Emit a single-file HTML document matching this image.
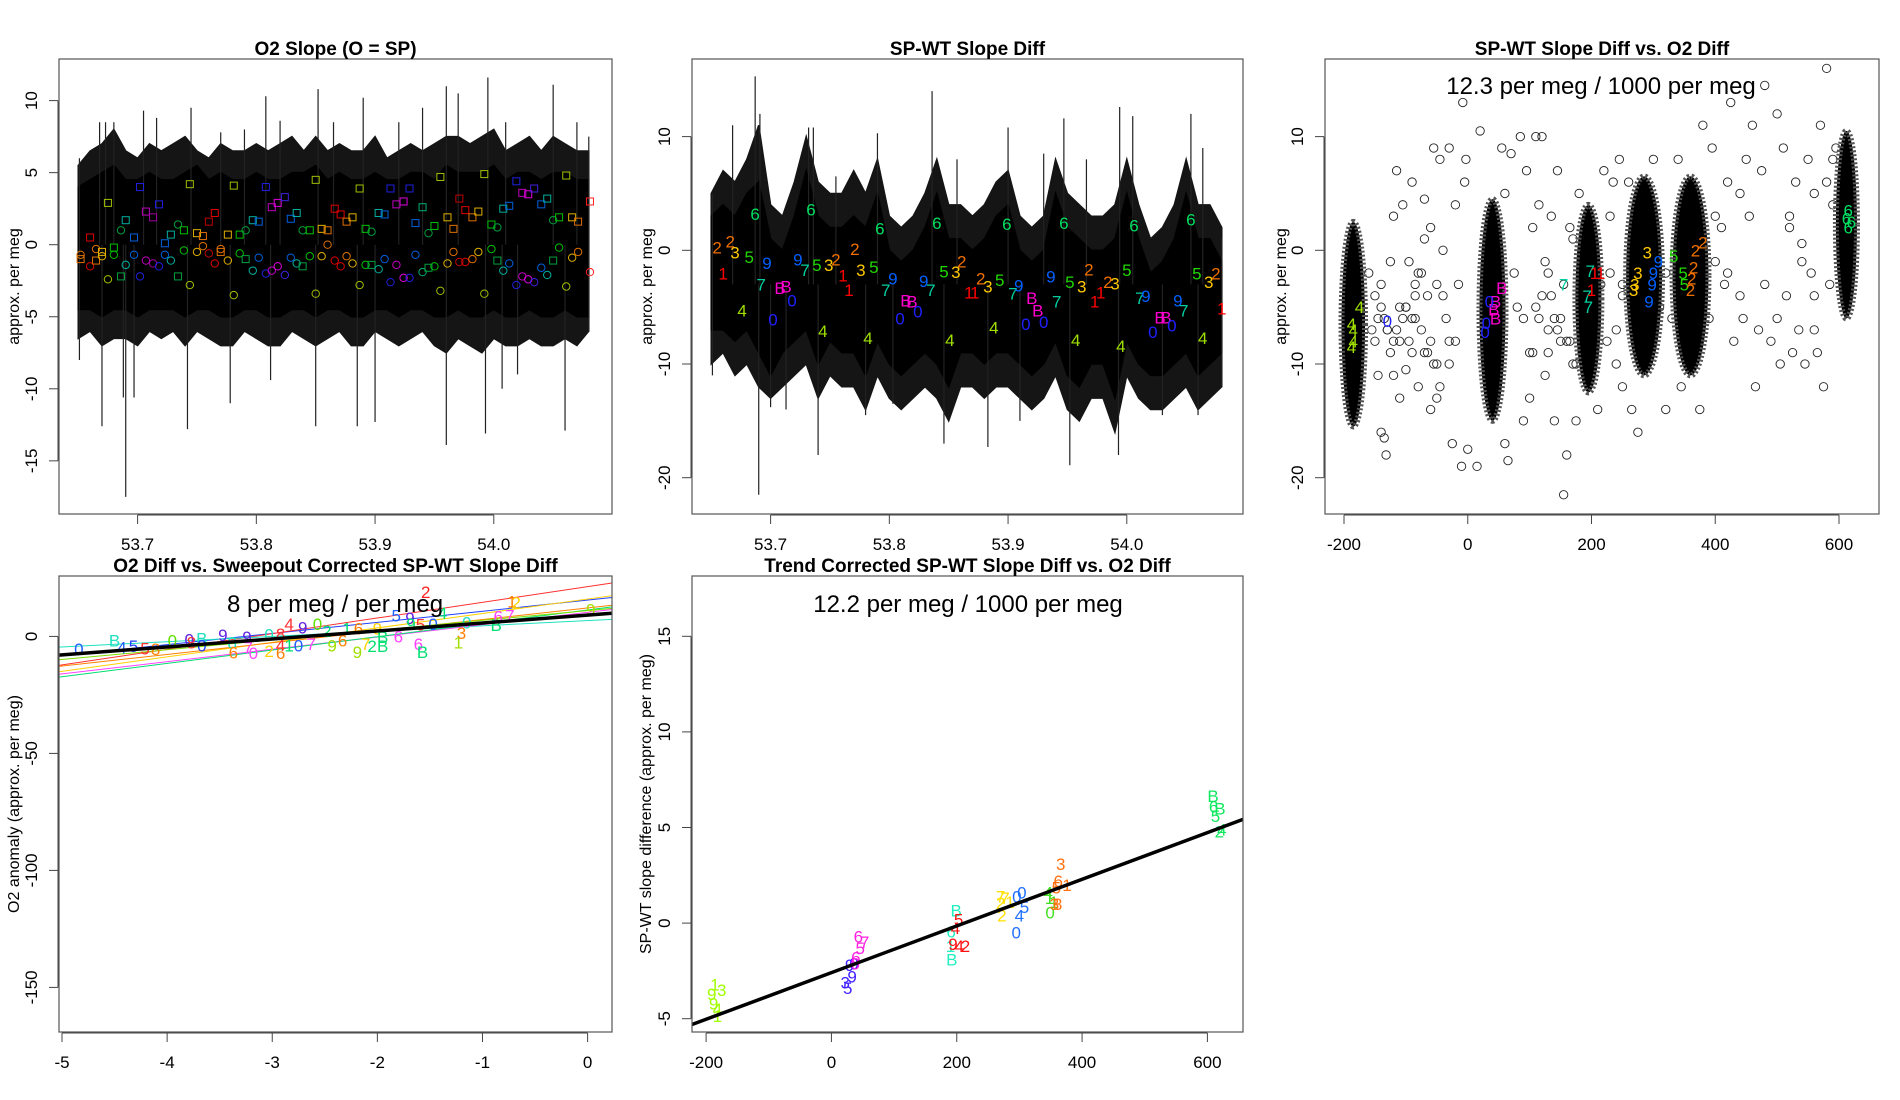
<!DOCTYPE html>
<html><head><meta charset="utf-8"><style>
html,body{margin:0;padding:0;background:#fff}
svg{display:block}
text{font-family:"Liberation Sans",Arial,sans-serif}
</style></head><body>
<svg id="chart" width="1900" height="1100" viewBox="0 0 1900 1100" xmlns="http://www.w3.org/2000/svg">
<rect width="1900" height="1100" fill="#fff"/>
</svg>
<script>
// ---------- Panel 1 data: O2 Slope ----------
const p1BandX = [53.65,53.66,53.67,53.68,53.69,53.70,53.71,53.72,53.73,53.74,53.75,53.76,53.77,53.78,53.79,53.80,53.81,53.82,53.83,53.84,53.85,53.86,53.87,53.88,53.89,53.90,53.91,53.92,53.93,53.94,53.95,53.96,53.97,53.98,53.99,54.00,54.01,54.02,54.03,54.04,54.05,54.06,54.07,54.08];
const p1BandHi = [4,4.5,5,5.5,4.5,4.5,5,4.5,4.5,5,5.5,4.5,5,4.5,4.5,5,4.5,4.5,5,5,5.5,4.5,5,4.5,4.5,5,4.5,4.5,5,5,4.5,5.5,5,5,5,5.5,4.5,5,5,4.5,5,5,4.5,4.5];
const p1BandLo = [-4.5,-4.5,-5,-4.5,-4.5,-5,-4.5,-4.5,-4.5,-5,-4.5,-4.5,-5,-5,-4.5,-4.5,-5,-5,-4.5,-4.5,-5,-4.5,-4.5,-5,-5,-4.5,-4.5,-5,-4.5,-4.5,-5,-5,-4.5,-5,-5,-4.5,-5,-5,-4.5,-5,-5,-4.5,-5,-5];
const p1FringeHi = [5.5,6.5,7,8,6.5,6,7,6.5,7,7.5,6.5,6,7,6.5,6.5,7,6.5,7,7.5,6.5,7.5,6.5,7,6.5,6.5,7.5,6,6.5,7,6.5,7,7.5,7.5,7,7.5,8,6.5,7,7.5,6.5,7.5,7,6.5,6.5];
const p1FringeLo = [-6.5,-6,-7,-6.5,-6.5,-7,-6,-6.5,-6,-7,-6,-6.5,-7,-7,-6,-6.5,-7,-7,-6,-6.5,-7,-6.5,-6,-7,-7,-6,-6.5,-7,-6.5,-6,-7,-7.5,-6.5,-7,-7.5,-6.5,-7,-7,-6.5,-7,-7,-6.5,-7,-6];
const p1SpikeUpX = [53.651,53.668,53.673,53.68,53.705,53.716,53.745,53.77,53.79,53.808,53.82,53.852,53.865,53.89,53.92,53.94,53.96,53.97,53.995,54.01,54.05,54.07,54.08];
const p1SpikeUpY = [6,8.5,8.5,8.5,9.3,8.8,9.5,7.8,8,10.3,8.6,10.8,8.5,10.2,8.5,9.5,11,10.5,11.6,8.5,11.1,8.5,7.5];
const p1SpikeDnX = [53.651,53.67,53.688,53.69,53.697,53.742,53.778,53.812,53.85,53.885,53.9,53.96,53.993,54.007,54.02,54.06,54.08];
const p1SpikeDnY = [-8,-12.6,-10.6,-17.5,-10.6,-12.8,-11,-9.4,-12.6,-12.6,-12.3,-13.9,-13.1,-10,-9,-12.9,-6];
const p1MarkX = [53.652,53.66,53.665,53.67,53.675,53.68,53.686,53.69,53.697,53.702,53.707,53.713,53.718,53.723,53.728,53.734,53.739,53.744,53.75,53.755,53.76,53.765,53.77,53.776,53.781,53.786,53.791,53.797,53.802,53.808,53.813,53.818,53.824,53.829,53.834,53.839,53.845,53.85,53.855,53.86,53.866,53.871,53.876,53.881,53.887,53.892,53.897,53.903,53.908,53.913,53.918,53.924,53.929,53.934,53.94,53.945,53.95,53.955,53.961,53.966,53.971,53.976,53.982,53.987,53.992,53.998,54.003,54.008,54.013,54.019,54.024,54.029,54.034,54.04,54.045,54.05,54.055,54.061,54.066,54.071,54.081];
const p1MarkColor = ["#e07000","#e00000","#e07000","#e0b000","#a0c000","#00c000","#00a040","#00b0a0","#0060e0","#2020e0","#c000c0","#a000a0","#2020e0","#0060e0","#00b0a0","#00a040","#00c000","#a0c000","#e0b000","#e07000","#c00000","#e00000","#e07000","#e0b000","#a0c000","#00c000","#00a040","#00b0a0","#0060e0","#2020e0","#c000c0","#e000e0","#4020e0","#0060e0","#00b0a0","#00a040","#00c000","#a0c000","#e0b000","#e07000","#e00000","#e00000","#e07000","#e0b000","#a0c000","#00c000","#00a040","#00b0a0","#0060e0","#2020e0","#c000c0","#e000e0","#2020e0","#0060e0","#00b070","#00a040","#00c000","#a0c000","#e0b000","#e07000","#c00000","#e00000","#e07000","#e0b000","#a0c000","#00c000","#00a040","#00b0a0","#0060e0","#2020e0","#c000c0","#e000e0","#4020e0","#0060e0","#00b0a0","#00a040","#00c000","#a0c000","#e0b000","#e07000","#ff2020"];
const p1SquareY = [-1.0,0.5,-1.1,-0.5,2.9,-0.2,-2.2,1.7,0.5,4.0,2.3,1.9,2.8,0.1,0.7,-2.2,1.0,4.2,0.8,0.6,1.6,2.2,-0.5,0.7,4.1,0.7,-1.0,1.7,1.6,4.0,2.6,2.9,3.3,1.8,2.2,-1.5,1.0,4.5,1.1,1.0,2.5,2.1,1.6,1.9,3.9,1.1,-1.4,2.2,2.1,3.9,2.8,3.0,3.9,1.5,2.6,-1.6,1.3,4.7,1.9,1.1,3.2,2.4,1.9,2.3,4.9,1.4,-1.1,2.5,2.7,4.4,3.6,3.5,3.9,2.8,3.2,-1.1,1.9,4.8,1.9,1.6,3.0];
const p1CircleY = [-0.7,-1.5,-0.3,-0.8,-2.4,-0.7,1.0,-1.4,-0.7,-2.2,-1.1,-1.3,-1.5,-0.7,-1.1,1.4,-0.4,-2.8,-0.5,-0.1,-0.6,-1.3,-0.3,-1.1,-3.5,-0.6,1.0,-1.8,-0.9,-2.0,-1.8,-1.5,-2.1,-0.9,-1.3,1.0,-0.8,-3.4,-0.8,0,-1.1,-1.5,-0.8,-1.3,-2.8,-1.4,0.9,-1.7,-1.0,-2.6,-1.4,-2.3,-2.3,-0.7,-1.9,0.8,-1.5,-3.2,-1.3,-0.5,-1.2,-1.2,-1.0,-0.5,-3.4,-0.3,1.2,-1.8,-1.3,-2.8,-2.2,-2.4,-2.6,-1.6,-2.1,1.7,-0.2,-2.9,-0.9,-0.5,-1.9];
const p1XTicks = [53.7,53.8,53.9,54.0];
const p1XTickLabels = ["53.7","53.8","53.9","54.0"];
const p1YTicks = [-15,-10,-5,0,5,10];

// ---------- Panel 2 data: SP-WT Slope Diff ----------
const p2BandX = p1BandX;
const p2BandHi = [3,4,3,5,6,1,0,3,7,3,2,2,3,2,5,0,-1,0,2,5,1,1,0,1,3,4,0,-1,0,5,2,1,0,0,1,5,1,-2,-1,1,5,1,1,-1];
const p2BandLo = [-7,-7,-8,-7,-9,-11,-9,-8,-7,-10,-8,-9,-9,-11,-8,-10,-11,-10,-9,-10,-12,-9,-9,-10,-9,-9,-10,-11,-10,-8,-11,-12,-10,-10,-13,-8,-10,-11,-11,-10,-9,-11,-10,-9];
const p2FringeHi = [5,7,6,8,11,4,3,6,10,6,5,5,7,5,8,3,2,3,5,8,4,4,3,4,6,7,3,2,3,8,5,4,3,3,4,8,4,1,2,4,8,4,4,2];
const p2FringeLo = [-10,-9,-11,-10,-12,-13,-12,-11,-10,-13,-11,-12,-12,-14,-11,-13,-14,-13,-12,-13,-15,-12,-12,-13,-12,-12,-13,-14,-13,-11,-14,-15,-13,-13,-16,-11,-13,-14,-14,-13,-12,-14,-13,-12];
const p2SpikeUpX = [53.651,53.668,53.687,53.691,53.732,53.736,53.755,53.79,53.836,53.857,53.9,53.93,53.947,53.966,53.994,54.005,54.054,54.064,54.08];
const p2SpikeUpY = [5,11,15.3,12,10.8,10.8,6.5,10.3,14,8,10.8,8.5,11.6,8,12.6,11.8,12,9,1];
const p2SpikeDnX = [53.651,53.69,53.70,53.713,53.74,53.78,53.803,53.846,53.883,53.91,53.952,53.993,54.03,54.06,54.08];
const p2SpikeDnY = [-11,-21.5,-13.8,-14,-18,-14.5,-13.5,-17,-17.3,-15,-18.9,-18,-14.5,-14.5,-12];
const p2LabX = [53.655,53.666,53.670,53.660,53.682,53.676,53.687,53.697,53.692,53.708,53.713,53.718,53.702,53.723,53.729,53.739,53.734,53.749,53.755,53.744,53.761,53.766,53.771,53.776,53.787,53.792,53.782,53.797,53.803,53.814,53.819,53.809,53.824,53.829,53.835,53.840,53.846,53.856,53.861,53.851,53.867,53.872,53.877,53.883,53.893,53.888,53.899,53.904,53.909,53.920,53.925,53.915,53.930,53.936,53.941,53.947,53.952,53.962,53.968,53.957,53.973,53.978,53.984,53.990,53.995,54.000,54.006,54.011,54.016,54.022,54.028,54.033,54.038,54.043,54.048,54.054,54.059,54.064,54.069,54.075,54.080];
const p2LabY = [0.25,0.77,-0.2,-2.06,-0.6,-5.3,3.2,-1.1,-3.0,-3.3,-3.2,-4.4,-6.1,-0.8,-1.75,-1.3,3.6,-1.3,-0.8,-7.1,-2.2,-3.5,0.1,-1.75,-1.45,1.9,-7.7,-3.5,-2.5,-4.4,-4.5,-6.0,-5.4,-2.7,-3.5,2.4,-1.85,-1.9,-1.0,-7.9,-3.7,-3.7,-2.5,-3.2,-2.6,-6.8,2.3,-3.8,-3.1,-4.2,-5.3,-6.5,-6.3,-2.3,-4.5,2.4,-2.8,-3.2,-1.7,-7.9,-4.5,-3.7,-2.8,-2.9,-8.4,-1.75,2.2,-4.2,-4.0,-7.2,-5.9,-5.9,-6.6,-4.4,-5.3,2.7,-2.06,-7.7,-2.8,-2.06,-5.1];
const p2LabText = ["2","2","3","1","5","4","6","9","7","B","B","0","0","9","7","5","6","3","2","4","1","1","2","3","5","6","4","7","9","B","B","0","0","9","7","6","5","3","2","4","1","1","2","3","5","4","6","7","9","B","B","0","0","9","7","6","5","3","2","4","1","1","2","3","4","5","6","7","9","0","B","B","0","9","7","6","5","4","3","2","1"];
const p2YTicks = [-20,-10,0,10];

// ---------- Panel 3 data: SP-WT Slope Diff vs O2 Diff ----------
const p3ClusterX = [-185,40,195,285,360,612];
const p3ClusterHalfW = [19,21,21,29,29,17];
const p3ClusterTop = [2.5,4.5,4,6.5,6.5,10.5];
const p3ClusterBottom = [-15.5,-15,-12.5,-11,-11,-6];
const p3PtX = [-140,-130,-120,-110,-100,-95,-90,-85,-80,-75,-70,-60,-55,-50,-45,-40,-35,-30,-25,-20,-15,-10,-5,-3,-8,-115,-125,-140,-135,-132,-150,-105,-100,-90,-60,-70,-45,-30,0,15,20,55,60,65,70,75,80,85,90,95,100,105,110,115,120,125,130,135,140,145,150,155,160,165,170,175,180,185,210,215,220,225,230,235,240,245,250,260,265,275,300,310,320,340,345,375,380,390,400,410,420,425,430,440,450,460,465,470,475,480,490,500,505,510,515,520,530,535,540,545,550,555,560,565,570,575,580,585,590,595,560,525,455,445,415,395,250,170,130,60,-60,-20,-85,-120,-145,-110,-65,-40,-155,-100,-80,-50,-130,100,120,140,160,110,150,-150,-140,-125,-115,-105,-95,-85,-75,-65,-55,-160,-145,-135,-120,-110,-90,-70,-50,-30,90,105,125,135,145,155,165,175,130,115,230,240,250,320,330,400,420,440,480,500,520,540,560,580,590,600];
const p3PtY = [-3,-7,-11,-13,-5,-1,-9,-4,-12,-2,1,-8,9,-13,8,0,-6,9,-17,4,-3,-19,6,8,13,7,-1,-16,-16.5,-18,-4,4,-10.5,6,-14,4.5,-12,-10,-17.5,-19,10.5,9,-17,-18.5,8.5,-2,-5,10,-15,7,-13,2,10,-6,10,-11,-2,3,-15,7,-8,-21.5,-18,2,-10,-15,5,-9,-14,-3,7,-8,3,6,-10,8,-12,6,-14,-16,8,-5,-14,8,-12,-14,11,-6,-1,2,6,13,-8,-4,8,11,-12,-7,7,14.5,-8,12,-10,9,-4,3,6,-7,0.6,-10,8,-2,5,-9,11,-12,16,-3,4,9,-4,-9,3,-6,-3,9,-3,1,-7,5,2,-8,-6,3,-6,-8,-9,-4,-7,-5,-2,-10,-7,-9,-4,-6,-8,-5,-6,-8,-5,-9,-7,-6,-8,-3,-7,-4,-10,-2,-11,-6,-8,-5,-6,-9,-3,-8,-6,-9,-1,-4,-7,-3,-8,-10,-9,4,-2,-7,-4,-2,-6,3,-2,5,-3,-6,2,-1,-7,6,8];
const p3LabX = [-175,-188,-185,-185,-188,-130,55,45,42,45,35,30,28,155,198,193,195,205,215,200,290,275,270,268,308,300,298,293,333,348,350,380,368,365,362,360,615,612,615,620];
const p3LabY = [-5,-6.5,-7,-8,-8.5,-6.2,-3.3,-4.5,-5.2,-6,-4.5,-6.4,-7.2,-3,-1.8,-4,-5,-2,-2,-3.5,-0.2,-2,-3,-3.5,-1,-2,-3,-4.5,-0.5,-2,-3,0.7,0,-1.5,-2.5,-3.5,3.5,2.8,2,2.5];
const p3LabText = ["4","4","4","4","4","0","B","B","B","B","0","0","0","7","7","7","7","1","1","1","3","3","3","3","9","9","9","9","5","5","5","2","2","2","2","2","6","6","6","6"];
const p3XTicks = [-200,0,200,400,600];
const p3YTicks = [-20,-10,0,10];

// ---------- Panel 4 data ----------
const p4LineLeftY = [-8.4,-12.4,-4.6,-15.1,-16.2,-17.4,-12.8,-10];
const p4LineRightY = [16.6,22.8,7.3,17.4,11.5,12.6,13.3,12];
const p4LineColor = ["#2040ff","#ff3030","#20e0c0","#ffd000","#ff40ff","#00e070","#ff8000","#80e000"];
const p4FitLeftY = -8.0;
const p4FitRightY = 9.9;
const p4LabX = [-4.84,-4.50,-4.43,-4.32,-4.21,-4.11,-3.95,-3.79,-3.77,-3.67,-3.67,-3.47,-3.38,-3.37,-3.24,-3.23,-3.18,-3.03,-3.03,-2.92,-2.92,-2.92,-2.84,-2.75,-2.63,-2.84,-2.71,-2.57,-2.48,-2.43,-2.33,-2.29,-2.18,-2.00,-2.19,-2.11,-2.05,-1.95,-1.95,-1.80,-1.82,-1.69,-1.54,-1.68,-1.59,-1.61,-1.57,-1.47,-1.38,-1.15,-1.20,-1.23,-0.87,-0.85,-0.74,-0.72,-0.68,0.03];
const p4LabY = [-5.4,-1.65,-4.65,-4.2,-5.1,-5.4,-1.65,-1.35,-2.7,-0.9,-3.9,0.6,-2.7,-6.9,-0.15,-4.65,-7.2,-6.15,0.9,1.05,-7.2,-3.6,-3.9,-3.9,-3.15,5.4,3.9,5.4,2.4,-3.9,-1.65,3.3,3.3,3.3,-6.6,-3.15,-4.2,-4.2,-0.15,0,8.85,7.8,18.9,5.4,5.1,-3.15,-6.6,5.4,9.9,5.85,1.5,-2.7,4.8,8.55,8.85,14.85,14.4,11.4];
const p4LabText = ["0","B","4","5","5","8","0","0","8","B","0","9","8","6","9","7","0","2","0","8","6","4","1","0","7","4","9","0","2","9","6","1","6","9","9","7","2","B","B","6","5","9","2","9","5","6","B","0","4","0","3","1","B","6","7","1","2","9"];
const p4LabColor = ["#2060ff","#20e0c0","#2060ff","#2040ff","#ff3030","#ff8000","#60e000","#6020e0","#ff3030","#20e0c0","#2040ff","#6020e0","#20e0c0","#ff8000","#6020e0","#ff40ff","#ff40ff","#ffd000","#20e0c0","#ff3030","#ff8000","#ff3030","#00e070","#2060ff","#ff40ff","#ff3030","#6020e0","#60e000","#00e070","#a0e000","#ff8000","#00e070","#ff8000","#ffd000","#a0e000","#ffd000","#00e070","#00e070","#00e070","#ff40ff","#2060ff","#6020e0","#ff2020","#00e070","#ff3030","#ff40ff","#00e070","#2060ff","#00e070","#20e0c0","#ff8000","#a0e000","#00e070","#ff40ff","#ff40ff","#ff8000","#ffd000","#a0e000"];
const p4XTicks = [-5,-4,-3,-2,-1,0];
const p4YTicks = [-150,-100,-50,0];

// ---------- Panel 5 data ----------
const p5Slope = 0.0122;
const p5Intercept = -2.59;
const p5LabX = [-186,-175,-191,-188,-182,-182,26,33,29,22,36,43,53,46,39,38,199,191,192,190,203,198,194,204,214,270,277,270,272,285,304,296,308,300,295,346,348,349,355,366,362,359,376,361,356,609,610,620,613,619,623];
const p5LabY = [-3.2,-3.5,-3.7,-4.2,-4.5,-4.85,-3.4,-2.8,-2.2,-3.1,-2.1,-0.7,-1.0,-1.3,-1.8,-2.1,0.65,-0.45,-1.9,-1.2,0.2,-0.25,-1.1,-1.2,-1.2,1.4,1.3,1.05,0.4,1.1,1.6,1.4,0.85,0.4,-0.5,1.6,1.3,0.55,1.1,3.1,2.2,1.85,2.0,1.0,1.0,6.65,6.1,6.0,5.6,4.8,4.9];
const p5LabText = ["1","3","9","9","4","1","5","9","9","3","0","6","7","5","6","0","B","6","B","1","5","4","9","4","2","7","7","2","2","1","0","0","5","4","0","4","1","0","1","3","6","5","1","8","3","B","6","B","5","2","4"];
const p5LabColor = ["#a0ff00","#a0ff00","#a0ff00","#a0ff00","#a0ff00","#a0ff00","#4020ff","#4020ff","#4020ff","#4020ff","#4020ff","#ff20e0","#ff20e0","#ff20e0","#ff20e0","#ff20e0","#20f0c0","#20f0c0","#20f0c0","#20f0c0","#ff1010","#ff1010","#ff1010","#ff1010","#ff1010","#ffe000","#ffe000","#ffe000","#ffe000","#ffe000","#2070ff","#2070ff","#2070ff","#2070ff","#2070ff","#40e020","#40e020","#40e020","#40e020","#ff7010","#ff7010","#ff7010","#ff7010","#ff7010","#ff7010","#10e860","#10e860","#10e860","#10e860","#10e860","#10e860"];
const p5XTicks = [-200,0,200,400,600];
const p5YTicks = [-5,0,5,10,15];

const digitColor = {"1":"#ff0000","2":"#f07000","3":"#ffc800","4":"#a0e000","5":"#20d800","6":"#00e060","7":"#00d0a0","9":"#0060ff","0":"#2020ff","B":"#ff00d0"};

const svg = document.getElementById('chart');
const NS = 'http://www.w3.org/2000/svg';
function mk(tag, attrs, parent){
  const e = document.createElementNS(NS, tag);
  for (const k in attrs) e.setAttribute(k, attrs[k]);
  (parent || svg).appendChild(e);
  return e;
}
function lin(d0,d1,r0,r1){ return v => r0 + (v-d0)*(r1-r0)/(d1-d0); }

function frame(g, box, title, titleY){
  const r = mk('rect', {x:box.x0, y:box.y0, width:box.x1-box.x0, height:box.y1-box.y0, fill:'none', stroke:'#555', 'stroke-width':1.2}, g);
  
  
  const t = mk('text', {x:(box.x0+box.x1)/2, y:titleY, 'text-anchor':'middle', 'font-size':19, 'font-weight':'bold', fill:'#000'}, g);
  t.textContent = title;
  
  
}
function xAxis(g, box, sx, ticks, labels){
  const a = mk('g', {}, g);
  
  
  const y = box.y1 + 1;
  mk('line', {x1:sx(ticks[0]), x2:sx(ticks[ticks.length-1]), y1:y, y2:y, stroke:'#444', 'stroke-width':1}, a);
  ticks.forEach((t,i)=>{
    const tl = mk('line', {x1:sx(t), x2:sx(t), y1:y, y2:y+9, stroke:'#444', 'stroke-width':1}, a);
    
    
    const tx = mk('text', {x:sx(t), y:y+35, 'text-anchor':'middle', 'font-size':17, fill:'#000'}, a);
    tx.textContent = labels ? labels[i] : String(t);
    
    
  });
}
function yAxis(g, box, sy, ticks, title, titleX, labelX){
  const a = mk('g', {}, g);
  
  
  const x = box.x0 - 1;
  mk('line', {x1:x, x2:x, y1:sy(ticks[0]), y2:sy(ticks[ticks.length-1]), stroke:'#444', 'stroke-width':1}, a);
  ticks.forEach(t=>{
    const tl = mk('line', {x1:x-9, x2:x, y1:sy(t), y2:sy(t), stroke:'#444', 'stroke-width':1}, a);
    
    
    const tx = mk('text', {x:0, y:6, 'text-anchor':'middle', 'font-size':17, fill:'#000', transform:`translate(${box.x0-labelX},${sy(t)}) rotate(-90)`}, a);
    tx.textContent = String(t);
    
    
  });
  const tt = mk('text', {x:0, y:6, 'text-anchor':'middle', 'font-size':16, fill:'#000', transform:`translate(${titleX},${(box.y0+box.y1)/2}) rotate(-90)`}, a);
  tt.textContent = title;
  
  
}
function band(g, sx, sy, X, Hi, Lo, color){
  let d = 'M' + X.map((x,i)=>sx(x)+','+sy(Hi[i])).join('L');
  for (let i=X.length-1;i>=0;i--) d += 'L'+sx(X[i])+','+sy(Lo[i]);
  const p = mk('path', {d:d+'Z', fill:color, stroke:color, 'stroke-width':1.5}, g);
  
  
}
function spikes(g, sx, sy, X, Y, base){
  X.forEach((x,i)=>{
    const l = mk('line', {x1:sx(x), x2:sx(x), y1:sy(base), y2:sy(Y[i]), stroke:'#222', 'stroke-width':1.2}, g);
    
    
  });
}

// ===== Panel 1 =====
(function(){
  const box = {x0:59,x1:612,y0:59,y1:514};
  const g = mk('g', {});  
  const sx = lin(53.7,54.0,137.6,493.8), sy = lin(0,10,244.7,100.6);
  band(g, sx, sy, p1BandX, p1FringeHi, p1FringeLo, '#151515');
  band(g, sx, sy, p1BandX, p1BandHi, p1BandLo, '#000');
  spikes(g, sx, sy, p1SpikeUpX, p1SpikeUpY, 0);
  spikes(g, sx, sy, p1SpikeDnX, p1SpikeDnY, 0);
  p1MarkX.forEach((x,i)=>{
    const s = mk('rect', {x:sx(x)-3.5, y:sy(p1SquareY[i])-3.5, width:7, height:7, fill:'none', stroke:p1MarkColor[i], 'stroke-width':1}, g);
    
    
    const c = mk('circle', {cx:sx(x), cy:sy(p1CircleY[i]), r:3.7, fill:'none', stroke:p1MarkColor[i], 'stroke-width':1}, g);
    
    
  });
  frame(g, box, 'O2 Slope (O = SP)', 55);
  xAxis(g, box, sx, p1XTicks, p1XTickLabels);
  yAxis(g, box, sy, p1YTicks, 'approx. per meg', 13, 28);
})();

// ===== Panel 2 =====
(function(){
  const box = {x0:692,x1:1243,y0:59,y1:514};
  const g = mk('g', {});  
  const sx = lin(53.7,54.0,770.6,1126.8), sy = lin(0,10,250.3,136.6);
  band(g, sx, sy, p2BandX, p2FringeHi, p2FringeLo, '#151515');
  band(g, sx, sy, p2BandX, p2BandHi, p2BandLo, '#000');
  spikes(g, sx, sy, p2SpikeUpX, p2SpikeUpY, -3);
  spikes(g, sx, sy, p2SpikeDnX, p2SpikeDnY, -3);
  p2LabX.forEach((x,i)=>{
    const t = mk('text', {x:sx(x), y:sy(p2LabY[i])+6, 'text-anchor':'middle', 'font-size':17, fill:digitColor[p2LabText[i]]}, g);
    t.textContent = p2LabText[i];
    
    
  });
  frame(g, box, 'SP-WT Slope Diff', 55);
  xAxis(g, box, sx, p1XTicks, p1XTickLabels);
  yAxis(g, box, sy, p2YTicks, 'approx. per meg', 646, 28);
})();

// ===== Panel 3 =====
(function(){
  const box = {x0:1325,x1:1879,y0:59,y1:514};
  const g = mk('g', {});  
  const sx = lin(-200,600,1344,1839), sy = lin(0,10,250.3,136.6);
  const clip = mk('clipPath', {id:'c3'}, g);
  mk('rect', {x:box.x0, y:box.y0, width:box.x1-box.x0, height:box.y1-box.y0}, clip);
  const inner = mk('g', {'clip-path':'url(#c3)'}, g);
  p3PtX.forEach((x,i)=>{
    const c = mk('circle', {cx:sx(x), cy:sy(p3PtY[i]), r:4.2, fill:'none', stroke:'#222', 'stroke-width':0.9}, inner);
    
    
  });
  p3ClusterX.forEach((x,i)=>{
    const cx = sx(x), cy = (sy(p3ClusterTop[i])+sy(p3ClusterBottom[i]))/2;
    const rx = sx(x+p3ClusterHalfW[i]) - cx, ry = (sy(p3ClusterBottom[i])-sy(p3ClusterTop[i]))/2;
    const e = mk('ellipse', {cx:cx, cy:cy, rx:rx, ry:ry, fill:'#000', stroke:'#555', 'stroke-width':6, 'stroke-dasharray':'2 2'}, inner);
    
    
  });
  p3LabX.forEach((x,i)=>{
    const t = mk('text', {x:sx(x), y:sy(p3LabY[i])+6, 'text-anchor':'middle', 'font-size':17, fill:digitColor[p3LabText[i]]}, inner);
    t.textContent = p3LabText[i];
    
    
  });
  const a = mk('text', {x:1601, y:94, 'text-anchor':'middle', 'font-size':24, fill:'#000'}, g);
  a.textContent = '12.3 per meg / 1000 per meg';
  
  
  frame(g, box, 'SP-WT Slope Diff vs. O2 Diff', 55);
  xAxis(g, box, sx, p3XTicks);
  yAxis(g, box, sy, p3YTicks, 'approx. per meg', 1280, 28);
})();

// ===== Panel 4 =====
(function(){
  const box = {x0:59,x1:612,y0:576,y1:1032};
  const g = mk('g', {});  
  const sx = lin(-5,0,62,587.6), sy = lin(0,-150,636.4,987.4);
  const xl = -5.03, xr = 0.232;
  p4LineLeftY.forEach((yl,i)=>{
    const l = mk('line', {x1:sx(xl), y1:sy(yl), x2:sx(xr), y2:sy(p4LineRightY[i]), stroke:p4LineColor[i], 'stroke-width':1}, g);
    
    
  });
  p4LabX.forEach((x,i)=>{
    const t = mk('text', {x:sx(x), y:sy(p4LabY[i])+6, 'text-anchor':'middle', 'font-size':17, fill:p4LabColor[i]}, g);
    t.textContent = p4LabText[i];
    
    
  });
  const f = mk('line', {x1:sx(xl), y1:sy(p4FitLeftY), x2:sx(xr), y2:sy(p4FitRightY), stroke:'#000', 'stroke-width':3.5}, g);
  
  
  const a = mk('text', {x:335, y:612, 'text-anchor':'middle', 'font-size':24, fill:'#000'}, g);
  a.textContent = '8 per meg / per meg';
  
  
  frame(g, box, 'O2 Diff vs. Sweepout Corrected SP-WT Slope Diff', 572);
  xAxis(g, box, sx, p4XTicks);
  yAxis(g, box, sy, p4YTicks, 'O2 anomaly (approx. per meg)', 13, 28);
})();

// ===== Panel 5 =====
(function(){
  const box = {x0:692,x1:1243,y0:576,y1:1032};
  const g = mk('g', {});  
  const sx = lin(-200,600,706.1,1207.4), sy = lin(0,5,923.1,827.5);
  p5LabX.forEach((x,i)=>{
    const t = mk('text', {x:sx(x), y:sy(p5LabY[i])+6, 'text-anchor':'middle', 'font-size':17, fill:p5LabColor[i]}, g);
    t.textContent = p5LabText[i];
    
    
  });
  const xl = -222.5, xr = 656.8;
  const f = mk('line', {x1:sx(xl), y1:sy(p5Intercept+p5Slope*xl), x2:sx(xr), y2:sy(p5Intercept+p5Slope*xr), stroke:'#000', 'stroke-width':3.5}, g);
  
  
  const a = mk('text', {x:968, y:612, 'text-anchor':'middle', 'font-size':24, fill:'#000'}, g);
  a.textContent = '12.2 per meg / 1000 per meg';
  
  
  frame(g, box, 'Trend Corrected SP-WT Slope Diff vs. O2 Diff', 572);
  xAxis(g, box, sx, p5XTicks);
  yAxis(g, box, sy, p5YTicks, 'SP-WT slope difference (approx. per meg)', 645, 28);
})();
</script>
</body></html>
